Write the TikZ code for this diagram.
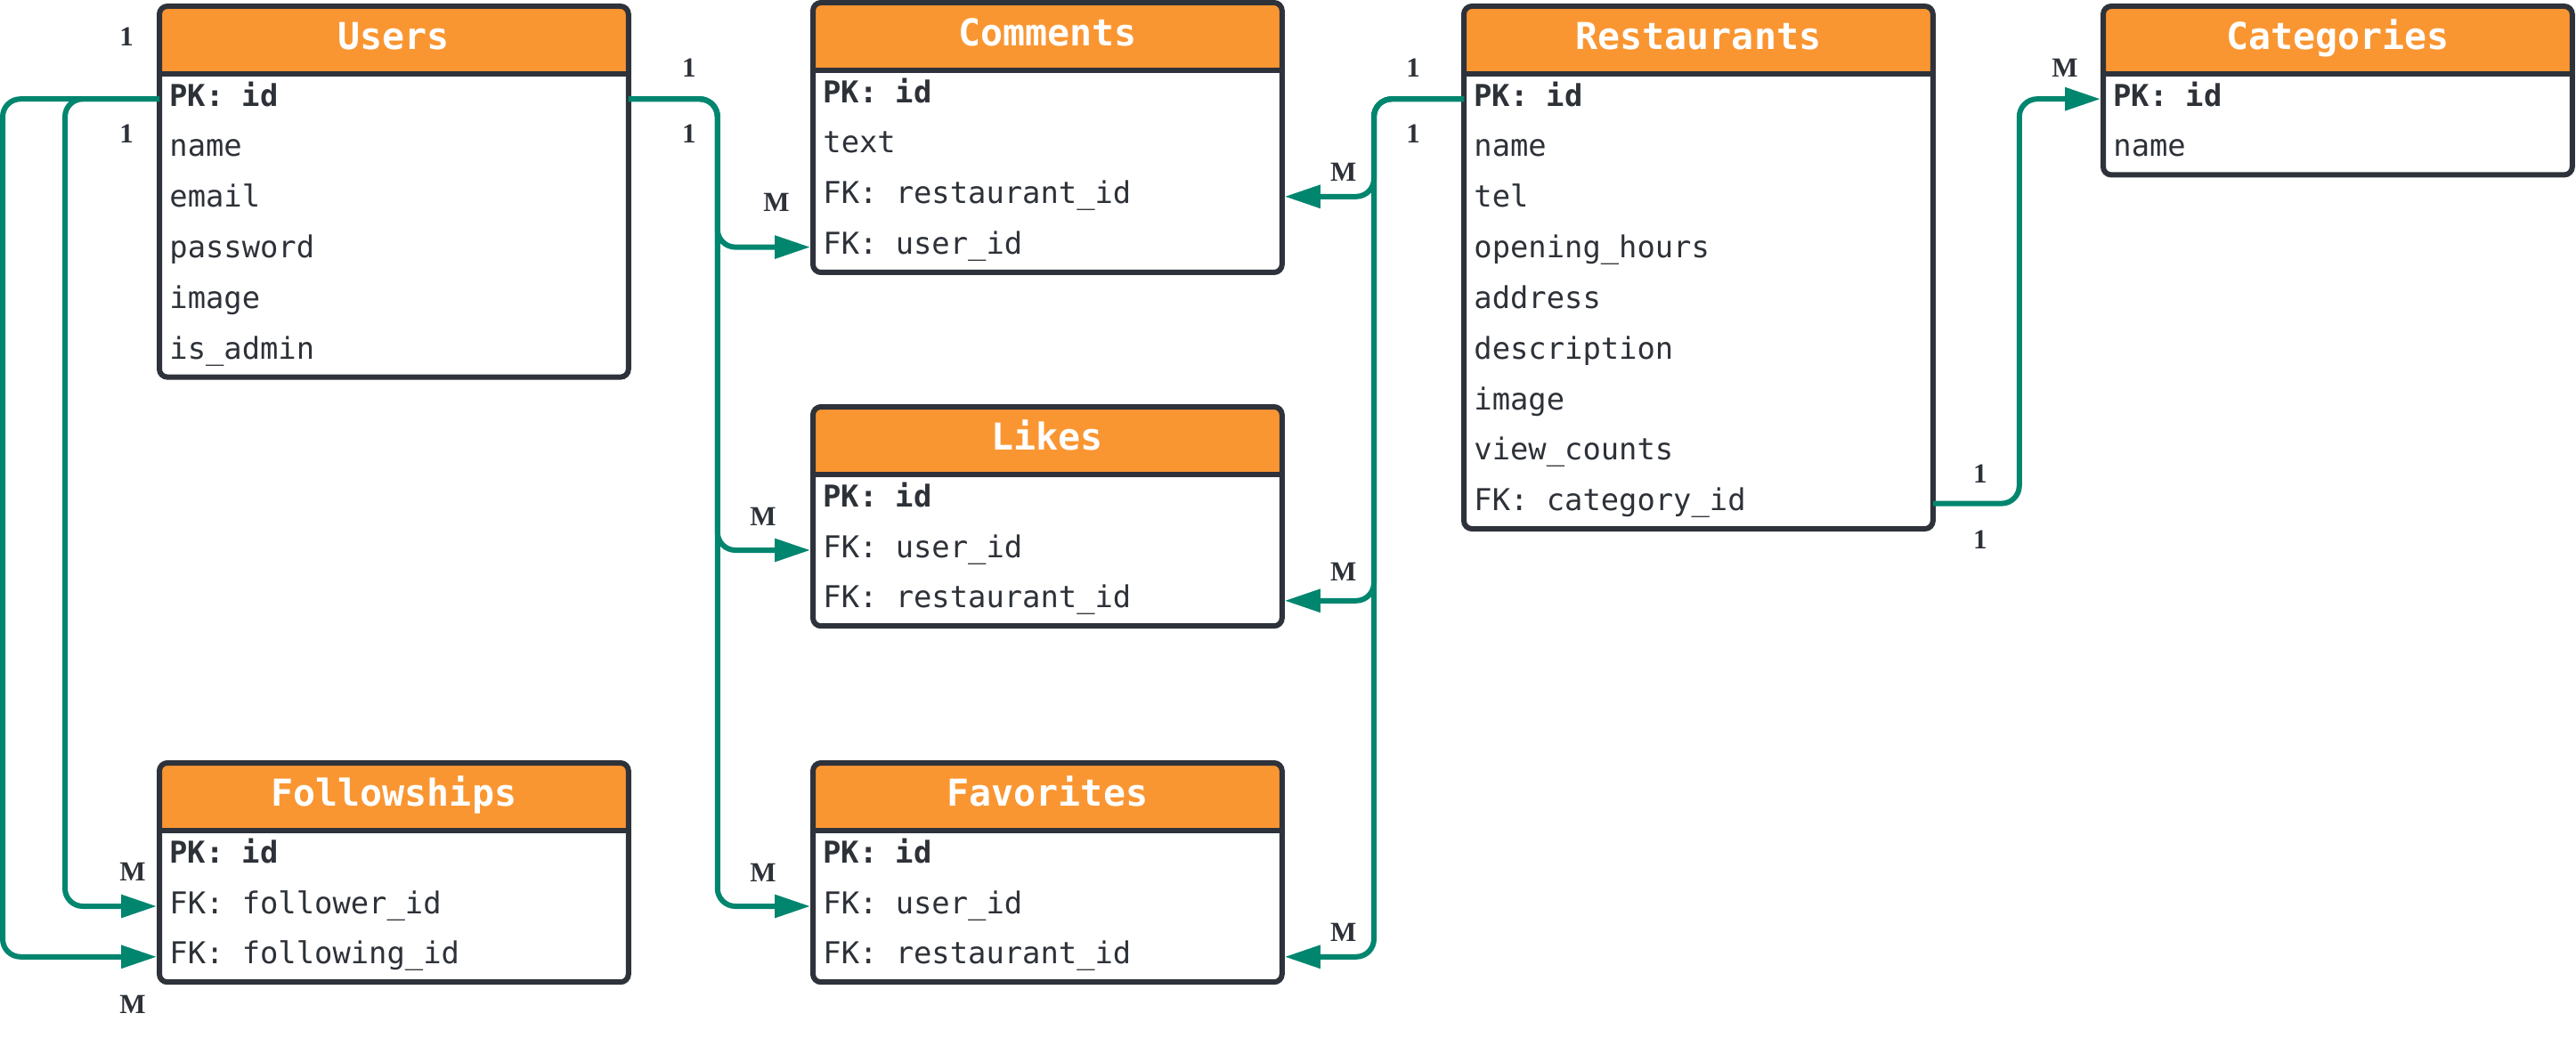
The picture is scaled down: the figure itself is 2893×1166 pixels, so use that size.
\documentclass[tikz,border=0pt]{standalone}
\usepackage{fontspec}
\setmainfont{Liberation Serif}
\setmonofont{DejaVu Sans Mono}
\usepackage{tikz}
\usetikzlibrary{
  arrows.meta,
  positioning
}
\definecolor{HeadOrange}{RGB}{250,150,50}
\definecolor{FrameGray}{RGB}{46,50,58}
\definecolor{LinkTeal}{RGB}{0,133,111}
\definecolor{TextGray}{RGB}{45,49,56}
\DeclareRobustCommand\monospacing{\spaceskip=0.602em\relax}
\tikzset{
  tabhead/.style = {anchor=north west, minimum width=263pt, minimum height=37.5pt,
                    inner sep=0pt, text height=15pt, text depth=4pt, text=white,
                    fill=HeadOrange, rounded corners=4pt,
                    font=\ttfamily\bfseries\fontsize{20.8}{24}\selectfont},
  tabrow/.style  = {below=0pt of #1, minimum height=28pt, inner xsep=5.5pt, inner ysep=0pt,
                    text width=252pt, align=left, text height=12pt, text depth=4pt,
                    text=TextGray, font=\ttfamily\fontsize{16.9}{20}\selectfont,
                    execute at begin node=\monospacing},
  frame/.style   = {FrameGray, line width=3pt, rounded corners=4.5pt},
  link/.style    = {LinkTeal, line width=3pt, rounded corners=10pt, shorten >=1.5pt,
                    -{Triangle[length=20pt, width=12.5pt]}},
  card/.style    = {inner sep=0pt, text=TextGray, font=\bfseries\fontsize{15.5}{18}\selectfont}
}

\begin{document}
\begin{tikzpicture}[x=0.5pt, y=-0.5pt]
  \useasboundingbox (0,0) rectangle (2893,1166);

  % Users
  \node[tabhead] (users) at (179,7) {Users};
  \node[tabrow=users]       (users-pk)    {\textbf{PK: id}};
  \node[tabrow=users-pk]    (users-name)  {name};
  \node[tabrow=users-name]  (users-email) {email};
  \node[tabrow=users-email] (users-pw)    {password};
  \node[tabrow=users-pw]    (users-img)   {image};
  \node[tabrow=users-img]   (users-admin) {is\_admin};

  % Comments
  \node[tabhead] (comments) at (913,3) {Comments};
  \node[tabrow=comments]      (comments-pk)   {\textbf{PK: id}};
  \node[tabrow=comments-pk]   (comments-text) {text};
  \node[tabrow=comments-text] (comments-rest) {FK: restaurant\_id};
  \node[tabrow=comments-rest] (comments-user) {FK: user\_id};

  % Restaurants
  \node[tabhead] (restaurants) at (1644,7) {Restaurants};
  \node[tabrow=restaurants]       (restaurants-pk)    {\textbf{PK: id}};
  \node[tabrow=restaurants-pk]    (restaurants-name)  {name};
  \node[tabrow=restaurants-name]  (restaurants-tel)   {tel};
  \node[tabrow=restaurants-tel]   (restaurants-hours) {opening\_hours};
  \node[tabrow=restaurants-hours] (restaurants-addr)  {address};
  \node[tabrow=restaurants-addr]  (restaurants-desc)  {description};
  \node[tabrow=restaurants-desc]  (restaurants-img)   {image};
  \node[tabrow=restaurants-img]   (restaurants-views) {view\_counts};
  \node[tabrow=restaurants-views] (restaurants-cat)   {FK: category\_id};

  % Categories
  \node[tabhead] (categories) at (2362,7) {Categories};
  \node[tabrow=categories]    (categories-pk)   {\textbf{PK: id}};
  \node[tabrow=categories-pk] (categories-name) {name};

  % Likes
  \node[tabhead] (likes) at (913,457) {Likes};
  \node[tabrow=likes]      (likes-pk)   {\textbf{PK: id}};
  \node[tabrow=likes-pk]   (likes-user) {FK: user\_id};
  \node[tabrow=likes-user] (likes-rest) {FK: restaurant\_id};

  % Favorites
  \node[tabhead] (favorites) at (913,857) {Favorites};
  \node[tabrow=favorites]      (favorites-pk)   {\textbf{PK: id}};
  \node[tabrow=favorites-pk]   (favorites-user) {FK: user\_id};
  \node[tabrow=favorites-user] (favorites-rest) {FK: restaurant\_id};

  % Followships
  \node[tabhead] (follow) at (179,857) {Followships};
  \node[tabrow=follow]          (follow-pk)        {\textbf{PK: id}};
  \node[tabrow=follow-pk]       (follow-follower)  {FK: follower\_id};
  \node[tabrow=follow-follower] (follow-following) {FK: following\_id};

  % Table frames
  \foreach \tab/\last in {users/users-admin, comments/comments-user,
      restaurants/restaurants-cat, categories/categories-name, likes/likes-rest,
      favorites/favorites-rest, follow/follow-following}{
    \fill[HeadOrange] (\tab.south west) rectangle ([yshift=5pt]\tab.south east);
    \draw[frame] (\tab.north west) rectangle (\last.south east);
    \draw[frame, rounded corners=0pt] (\tab.south west) -- (\tab.south east);
  }

  % Users to followships
  \draw[link] (users-pk.west) -- ([xshift=-88pt]users-pk.west) |- (follow-following.west);
  \draw[link] (users-pk.west) -- ([xshift=-53pt]users-pk.west) |- (follow-follower.west);

  % Users to comments, likes, favorites
  \draw[link] (users-pk.east) -- ([xshift=50pt]users-pk.east) |- (comments-user.west);
  \draw[link] (users-pk.east) -- ([xshift=50pt]users-pk.east) |- (likes-user.west);
  \draw[link] (users-pk.east) -- ([xshift=50pt]users-pk.east) |- (favorites-user.west);

  % Restaurants to comments, likes, favorites
  \draw[link] (restaurants-pk.west) -- ([xshift=-50.5pt]restaurants-pk.west) |- (comments-rest.east);
  \draw[link] (restaurants-pk.west) -- ([xshift=-50.5pt]restaurants-pk.west) |- (likes-rest.east);
  \draw[link] (restaurants-pk.west) -- ([xshift=-50.5pt]restaurants-pk.west) |- (favorites-rest.east);

  % Restaurants to categories
  \draw[link] (restaurants-cat.east) -- ([xshift=48.5pt]restaurants-cat.east) |- (categories-pk.west);

  % Cardinalities
  \node[card] (u-left-a)  at ([xshift=-18.5pt, yshift=35pt]users-pk.west)    {1};
  \node[card] (u-left-b)  at ([xshift=-18.5pt, yshift=-19.5pt]users-pk.west) {1};
  \node[card] (u-right-a) at ([xshift=34pt, yshift=17.5pt]users-pk.east)     {1};
  \node[card] (u-right-b) at ([xshift=34pt, yshift=-19.5pt]users-pk.east)    {1};
  \node[card] (r-left-a)  at ([xshift=-28.5pt, yshift=17.5pt]restaurants-pk.west)  {1};
  \node[card] (r-left-b)  at ([xshift=-28.5pt, yshift=-19.5pt]restaurants-pk.west) {1};
  \node[card] (r-cat-a)   at ([xshift=26.5pt, yshift=16.5pt]restaurants-cat.east)  {1};
  \node[card] (r-cat-b)   at ([xshift=26.5pt, yshift=-20.5pt]restaurants-cat.east) {1};
  \node[card] (c-many)    at ([xshift=-21.5pt, yshift=17.5pt]categories-pk.west)   {M};
  \node[card] (f-many-a)  at ([xshift=-15pt, yshift=19.5pt]follow-follower.west)   {M};
  \node[card] (f-many-b)  at ([xshift=-15pt, yshift=-27pt]follow-following.west)   {M};
  \node[card] (cu-many)   at ([xshift=-20.5pt, yshift=25pt]comments-user.west)     {M};
  \node[card] (lu-many)   at ([xshift=-28pt, yshift=19pt]likes-user.west)          {M};
  \node[card] (fu-many)   at ([xshift=-28pt, yshift=19pt]favorites-user.west)      {M};
  \node[card] (cr-many)   at ([xshift=34.5pt, yshift=13.5pt]comments-rest.east)    {M};
  \node[card] (lr-many)   at ([xshift=34.5pt, yshift=16pt]likes-rest.east)         {M};
  \node[card] (fr-many)   at ([xshift=34.5pt, yshift=13.5pt]favorites-rest.east)   {M};
\end{tikzpicture}
\end{document}
